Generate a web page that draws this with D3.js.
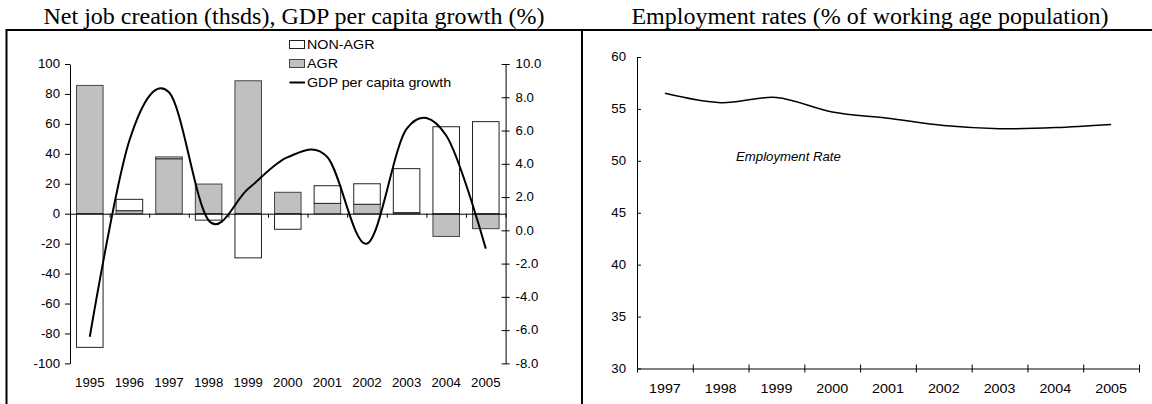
<!DOCTYPE html>
<html>
<head>
<meta charset="utf-8">
<script src="https://cdn.jsdelivr.net/npm/d3@7"></script>
<style>
  body { margin: 0; background: #fff; }
  .axis text, .legend text, .note {
    font-family: "Liberation Sans", Arial, sans-serif;
    font-size: 12px;
    fill: #000;
    transform-box: fill-box;
    transform-origin: center;
    transform: scaleX(1.1);
  }
  .axis.left text { transform-origin: right center; }
  .axis.right text, .legend text, .note { transform-origin: left center; }
  .axis.years2 text { font-size: 13px; }
  .legend text { font-size: 13px; }
  .axis path, .axis line { stroke: #000; }
  .title { font-family: "Liberation Serif", "Times New Roman", serif; font-size: 24px; fill: #000; }
</style>
</head>
<body>
<div id="chart"></div>
<script>
const svgWidth = 1152;
const svgHeight = 404;

// left chart data (thousands of jobs, GDP per capita growth %)
var years = ["1995", "1996", "1997", "1998", "1999", "2000", "2001", "2002", "2003", "2004", "2005"];
var agr = [85.7, 2.0, 36.7, 19.8, 88.8, 14.3, 6.9, 6.3, 0.7, -15.2, -10.0];
var nonAgr = [-89.3, 7.6, 1.2, -4.3, -29.5, -10.4, 11.8, 13.7, 29.4, 58.1, 61.5];
var gdpGrowth = [-6.4, 5.4, 8.3, 0.6, 2.5, 4.4, 4.4, -0.8, 6.1, 5.7, -1.1];
var leftTicks = [-100, -80, -60, -40, -20, 0, 20, 40, 60, 80, 100];
var rightTicks = [-8, -6, -4, -2, 0, 2, 4, 6, 8, 10];

// right chart data (% of working age population)
var empYears = ["1997", "1998", "1999", "2000", "2001", "2002", "2003", "2004", "2005"];
var empRate = [56.5, 55.6, 56.1, 54.7, 54.1, 53.4, 53.1, 53.2, 53.5];
var empTicks = [30, 35, 40, 45, 50, 55, 60];

var svg = d3.select("#chart")
  .append("svg")
  .attr("width", svgWidth)
  .attr("height", svgHeight);

// panel frame
svg.append("path")
  .attr("d", "M6.5,404 V30 H1152 M582,30 V404")
  .attr("fill", "none")
  .attr("stroke", "#000")
  .attr("stroke-width", 2);

// titles
svg.append("text")
  .attr("class", "title")
  .attr("x", 294)
  .attr("y", 23.5)
  .attr("text-anchor", "middle")
  .text("Net job creation (thsds), GDP per capita growth (%)");

svg.append("text")
  .attr("class", "title")
  .attr("x", 870)
  .attr("y", 23.5)
  .attr("text-anchor", "middle")
  .text("Employment rates (% of working age population)");

// ---------- left chart ----------
var xBand = d3.scaleBand()
  .domain(years)
  .range([70, 505.6])
  .paddingInner(0.33)
  .paddingOuter(0.165);

var xEdge = d3.scaleLinear()
  .domain([0, years.length])
  .range([70, 505.6]);

var yLeft = d3.scaleLinear()
  .domain([-100, 100])
  .range([363.4, 64]);

var yRight = d3.scaleLinear()
  .domain([-8, 10])
  .range([363.4, 64]);

var jobData = years.map((y, i) => ({ year: y, agr: agr[i], nonAgr: nonAgr[i] }));

var stack = d3.stack()
  .keys(["agr", "nonAgr"])
  .offset(d3.stackOffsetDiverging);

var series = stack(jobData);

var barColors = { agr: "#c0c0c0", nonAgr: "#ffffff" };
var barStrokes = { agr: "#444", nonAgr: "#222" };

svg.append("g")
  .selectAll("g")
  .data(series)
  .enter()
  .append("g")
  .attr("fill", d => barColors[d.key])
  .attr("stroke", d => barStrokes[d.key])
  .selectAll("rect")
  .data(d => d)
  .enter()
  .append("rect")
  .attr("x", d => xBand(d.data.year))
  .attr("width", xBand.bandwidth())
  .attr("y", d => yLeft(Math.max(d[0], d[1])))
  .attr("height", d => Math.abs(yLeft(d[0]) - yLeft(d[1])));

// left y axis
svg.append("g")
  .attr("class", "axis left")
  .attr("transform", "translate(70,0)")
  .call(d3.axisLeft(yLeft).tickValues(leftTicks).tickSize(5).tickSizeOuter(0).tickPadding(5).tickFormat(d => d));

// right y axis (GDP growth)
var rightAxis = svg.append("g")
  .attr("class", "axis right")
  .attr("transform", "translate(505.6,0)")
  .call(d3.axisRight(yRight).tickValues(rightTicks).tickSize(4).tickSizeOuter(0).tickPadding(6).tickFormat(d => d.toFixed(1)));
rightAxis.selectAll(".tick line").attr("x1", -4);

// zero line with boundary ticks
svg.append("g")
  .attr("class", "axis")
  .attr("transform", `translate(0,${yLeft(0)})`)
  .call(d3.axisBottom(xEdge).tickValues(d3.range(years.length + 1)).tickSize(4).tickSizeOuter(0).tickFormat(""));

// year labels
var yearAxis = svg.append("g")
  .attr("class", "axis")
  .attr("transform", "translate(0,363.4)")
  .call(d3.axisBottom(xBand).tickSize(0).tickPadding(15));
yearAxis.select(".domain").remove();

// GDP line
var gdpLine = d3.line()
  .x((d, i) => xBand(years[i]) + xBand.bandwidth() / 2)
  .y(d => yRight(d))
  .curve(d3.curveCardinal.tension(0));

svg.append("path")
  .datum(gdpGrowth)
  .attr("d", gdpLine)
  .attr("fill", "none")
  .attr("stroke", "#000")
  .attr("stroke-width", 2);

// legend
var legend = svg.append("g").attr("class", "legend");

legend.append("rect")
  .attr("x", 289.5).attr("y", 40.5).attr("width", 15).attr("height", 8)
  .attr("fill", barColors.nonAgr).attr("stroke", barStrokes.nonAgr);
legend.append("text").attr("x", 307).attr("y", 49).text("NON-AGR");

legend.append("rect")
  .attr("x", 289.5).attr("y", 59.5).attr("width", 15).attr("height", 8)
  .attr("fill", barColors.agr).attr("stroke", barStrokes.agr);
legend.append("text").attr("x", 307).attr("y", 68).text("AGR");

legend.append("line")
  .attr("x1", 289.5).attr("x2", 305).attr("y1", 82.5).attr("y2", 82.5)
  .attr("stroke", "#000").attr("stroke-width", 2);
legend.append("text").attr("x", 307).attr("y", 87).text("GDP per capita growth");

// ---------- right chart ----------
var xEmp = d3.scaleBand()
  .domain(empYears)
  .range([637, 1139]);

var xEmpEdge = d3.scaleLinear()
  .domain([0, empYears.length])
  .range([637, 1139]);

var yEmp = d3.scaleLinear()
  .domain([30, 60])
  .range([368.5, 57]);

var empAxis = svg.append("g")
  .attr("class", "axis left")
  .attr("transform", "translate(637,0)")
  .call(d3.axisLeft(yEmp).tickValues(empTicks).tickSize(4).tickSizeOuter(0).tickPadding(7));
empAxis.selectAll(".tick line").attr("x2", 4);

var empXAxis = svg.append("g")
  .attr("class", "axis")
  .attr("transform", "translate(0,368.5)")
  .call(d3.axisBottom(xEmpEdge).tickValues(d3.range(empYears.length + 1)).tickSize(4).tickSizeOuter(0).tickFormat(""));
empXAxis.selectAll(".tick line").attr("y1", -4);

var empLabels = svg.append("g")
  .attr("class", "axis years2")
  .attr("transform", "translate(0,368.5)")
  .call(d3.axisBottom(xEmp).tickSize(0).tickPadding(15));
empLabels.select(".domain").remove();

var empLine = d3.line()
  .x((d, i) => xEmp(empYears[i]) + xEmp.bandwidth() / 2)
  .y(d => yEmp(d))
  .curve(d3.curveCardinal.tension(0));

svg.append("path")
  .datum(empRate)
  .attr("d", empLine)
  .attr("fill", "none")
  .attr("stroke", "#000")
  .attr("stroke-width", 1.5);

svg.append("text")
  .attr("class", "note")
  .attr("x", 736)
  .attr("y", 161)
  .attr("font-style", "italic")
  .text("Employment Rate");
</script>
</body>
</html>
